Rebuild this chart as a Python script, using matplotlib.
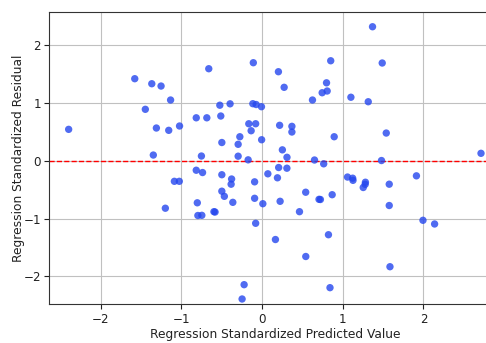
import numpy as np
import matplotlib
matplotlib.use("Agg")
import matplotlib.pyplot as plt

# standardized predicted values and residuals
pred = [-2.396, -1.577, -1.366, -1.251, -1.446, -1.133, -1.309, -1.156, -1.022, -1.347,
        -0.660, -0.815, -0.684, -0.523, -0.396, -0.511, -0.498, -0.751, -0.296, -0.275,
        -0.296, -0.172, -0.108, -0.114, -0.073, -0.007, -0.164, -0.079, -0.135, 1.369,
        0.851, 1.489, 0.203, 0.274, 0.799, 0.745, 0.807, 0.625, 1.101, 1.316,
        0.218, 0.370, 0.370, 0.894, 1.539, -0.005, 0.252, 0.309, 0.650, 0.764,
        1.480, 2.713, 0.206, 0.308, 0.072, 0.191, -0.092, 1.059, 1.123, 1.127,
        1.281, 1.278, 1.254, 1.576, 1.913, -0.815, -0.737, -1.086, -1.025, -0.498,
        -0.377, -0.383, -0.498, -0.467, -0.362, -0.802, -1.198, -0.795, -0.746, -0.596,
        -0.582, -0.222, -0.247, 0.541, 0.869, -0.092, 0.010, 0.224, 0.706, 0.723,
        1.576, 0.464, -0.079, 1.994, 2.138, 0.166, 0.823, 0.542, 1.585, 0.842]
resid = [0.545, 1.422, 1.335, 1.295, 0.892, 1.053, 0.568, 0.528, 0.603, 0.100,
         1.595, 0.745, 0.745, 0.963, 0.987, 0.776, 0.317, 0.083, 0.286, 0.417,
         0.080, 0.017, 1.699, 0.989, 0.975, 0.937, 0.642, 0.642, 0.521, 2.322,
         1.733, 1.694, 1.543, 1.273, 1.351, 1.179, 1.209, 1.053, 1.101, 1.023,
         0.615, 0.597, 0.499, 0.417, 0.481, 0.365, 0.190, 0.061, 0.014, -0.052,
         0.005, 0.130, -0.116, -0.128, -0.225, -0.294, -0.364, -0.281, -0.301, -0.338,
         -0.371, -0.407, -0.462, -0.405, -0.260, -0.163, -0.203, -0.355, -0.355, -0.241,
         -0.315, -0.405, -0.526, -0.615, -0.719, -0.727, -0.821, -0.947, -0.944, -0.881,
         -0.887, -2.145, -2.393, -0.544, -0.587, -0.649, -0.743, -0.701, -0.667, -0.670,
         -0.774, -0.881, -1.082, -1.030, -1.094, -1.363, -1.280, -1.657, -1.834, -2.197]

fig = plt.figure(figsize=(4.86, 3.43), dpi=100)
ax = fig.add_axes([0.1014, 0.1128, 0.931, 0.853])

ax.scatter(pred, resid, s=28, color="#2446ee", alpha=0.8, edgecolors="none", zorder=3)
ax.axhline(0, color="red", linestyle="--", linewidth=1, zorder=2)

ax.set_xlim(-2.636, 2.97)
ax.set_ylim(-2.485, 2.582)
ax.set_xticks([-2, -1, 0, 1, 2])
ax.set_yticks([-2, -1, 0, 1, 2])
ax.grid(True, color="#c0c0c0", linewidth=0.8)
ax.set_axisbelow(True)
for s in ax.spines.values():
    s.set_color("#333333")

ax.tick_params(labelsize=8.6, colors="#222222", pad=2.5)
ax.set_xlabel("Regression Standardized Predicted Value", fontsize=8.8, color="#222222", labelpad=1.5)
ax.set_ylabel("Regression Standardized Residual", fontsize=8.8, color="#222222", labelpad=-1)

plt.savefig("out.png", dpi=100)
plt.close()
